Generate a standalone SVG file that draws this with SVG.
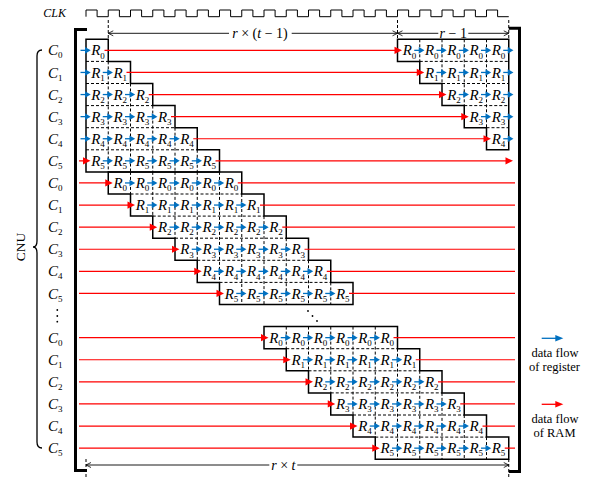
<svg xmlns="http://www.w3.org/2000/svg" xmlns:xlink="http://www.w3.org/1999/xlink" width="590" height="477" viewBox="0 0 590 477">
<style>
.o{fill:none;stroke:#000;stroke-width:1.5}
.d{fill:none;stroke:#000;stroke-width:1;stroke-dasharray:3 2}
.r{font-family:"Liberation Serif","DejaVu Serif",serif;font-style:italic;font-size:15px;fill:#000}
.s{font-style:normal;font-size:9px}
.rl{fill:none;stroke:#f00;stroke-width:1.2}
.dim{fill:none;stroke:#000;stroke-width:0.9}
.t{font-family:"Liberation Serif","DejaVu Serif",serif;font-size:14px;fill:#000}
.lg{font-family:"Liberation Serif","DejaVu Serif",serif;font-size:12.5px;fill:#000;text-anchor:middle}
.br{fill:none;stroke:#000;stroke-width:3}
</style>
<defs>
<g id="b"><path d="M-5.5,0H0" stroke="#0070c0" stroke-width="1.3"/><path d="M-1,-3.3L4.7,0L-1,3.3Z" fill="#0070c0"/></g>
<path id="ra" d="M-7.5,-3.6L0,0L-7.5,3.6Z" fill="#f00"/>
<path id="cr" d="M-5,-2.5L0,0L-5,2.5" fill="none" stroke="#000" stroke-width="0.8"/>
<path id="cl" d="M5,-2.5L0,0L5,2.5" fill="none" stroke="#000" stroke-width="0.8"/>
</defs>

<g id="clock">
<text x="43.3" y="16.7" style="font-family:'Liberation Serif','DejaVu Serif',serif;font-style:italic;font-size:12px">CLK</text>
<path d="M86,16.7 V10 H97.1 V16.7 H108.25 V10 H119.4 V16.7 H130.5 V10 H141.6 V16.7 H152.75 V10 H163.9 V16.7 H175 V10 H186.1 V16.7 H197.25 V10 H208.4 V16.7 H219.5 V10 H230.6 V16.7 H241.75 V10 H252.9 V16.7 H264 V10 H275.1 V16.7 H286.25 V10 H297.4 V16.7 H308.5 V10 H319.6 V16.7 H330.75 V10 H341.9 V16.7 H353 V10 H364.1 V16.7 H375.25 V10 H386.4 V16.7 H397.5 V10 H408.6 V16.7 H419.75 V10 H430.9 V16.7 H442 V10 H453.1 V16.7 H464.25 V10 H475.4 V16.7 H486.5 V10 H497.6 V16.7 H508.75" fill="none" stroke="#000" stroke-width="1"/>
</g>

<g id="dimensions">
<path class="d" d="M108.25,20V39.3 M397.5,20V39.3 M508.75,20V39.3 M86,459V477 M508.75,459V477" stroke-width="0.8"/>
<path class="dim" d="M108.25,33.3H229 M291.7,33.3H397.5 M397.5,33.3H438.3 M468.3,33.3H508.75 M86,465H269.3 M297.3,465H508.75"/>
<use xlink:href="#cl" x="108.25" y="33.3"/>
<use xlink:href="#cr" x="397.5" y="33.3"/>
<use xlink:href="#cl" x="397.5" y="33.3"/>
<use xlink:href="#cr" x="508.75" y="33.3"/>
<use xlink:href="#cl" x="86" y="465"/>
<use xlink:href="#cr" x="508.75" y="465"/>
<text class="t" x="260" y="38" text-anchor="middle"><tspan font-style="italic">r</tspan> × (<tspan font-style="italic">t</tspan> − 1)</text>
<text class="t" x="453.3" y="38" text-anchor="middle"><tspan font-style="italic">r</tspan> − 1</text>
<text class="t" x="283.3" y="469.5" text-anchor="middle"><tspan font-style="italic">r</tspan> × <tspan font-style="italic">t</tspan></text>
</g>

<g id="frame">
<path class="br" d="M87,29.5H75.5V470.5H87"/>
<path class="br" d="M508.75,28.3H519.5V471.5H508.75"/>
</g>

<g id="cnu">
<text transform="translate(25,247) rotate(-90)" text-anchor="middle" style="font-family:'Liberation Serif','DejaVu Serif',serif;font-size:13.5px">CNU</text>
<path d="M42,50 Q37,50 37,56 V241 Q37,247 33,247 Q37,247 37,253 V442 Q37,448 42,448" fill="none" stroke="#000" stroke-width="1.3"/>
<text class="r" x="48" y="55.4">C<tspan class="s" dy="3">0</tspan></text>
<text class="r" x="48" y="77.5">C<tspan class="s" dy="3">1</tspan></text>
<text class="r" x="48" y="99.6">C<tspan class="s" dy="3">2</tspan></text>
<text class="r" x="48" y="121.7">C<tspan class="s" dy="3">3</tspan></text>
<text class="r" x="48" y="143.8">C<tspan class="s" dy="3">4</tspan></text>
<text class="r" x="48" y="165.9">C<tspan class="s" dy="3">5</tspan></text>
<text class="r" x="48" y="188">C<tspan class="s" dy="3">0</tspan></text>
<text class="r" x="48" y="210.1">C<tspan class="s" dy="3">1</tspan></text>
<text class="r" x="48" y="232.2">C<tspan class="s" dy="3">2</tspan></text>
<text class="r" x="48" y="254.3">C<tspan class="s" dy="3">3</tspan></text>
<text class="r" x="48" y="276.4">C<tspan class="s" dy="3">4</tspan></text>
<text class="r" x="48" y="298.5">C<tspan class="s" dy="3">5</tspan></text>
<circle cx="57.3" cy="310" r="0.9"/><circle cx="57.3" cy="316" r="0.9"/><circle cx="57.3" cy="321.7" r="0.9"/>
<text class="r" x="48" y="342.7">C<tspan class="s" dy="3">0</tspan></text>
<text class="r" x="48" y="364.8">C<tspan class="s" dy="3">1</tspan></text>
<text class="r" x="48" y="386.9">C<tspan class="s" dy="3">2</tspan></text>
<text class="r" x="48" y="409">C<tspan class="s" dy="3">3</tspan></text>
<text class="r" x="48" y="431.1">C<tspan class="s" dy="3">4</tspan></text>
<text class="r" x="48" y="453.2">C<tspan class="s" dy="3">5</tspan></text>
</g>

<g id="block1">
<path class="d" d="M86,61.4H108.25 M86,83.5H130.5 M86,105.6H152.75 M86,127.7H175 M86,149.8H197.25 M108.25,61.4V171.9 M130.5,83.5V171.9 M152.75,105.6V171.9 M175,127.7V171.9 M197.25,149.8V171.9"/>
<path class="o" d="M86,39.3 H108.25 V61.4 H130.5 V83.5 H152.75 V105.6 H175 V127.7 H197.25 V149.8 H219.5 V171.9 H86 Z"/>
<text class="r" x="91.2" y="55.4">R<tspan class="s" dy="3.2">0</tspan></text>
<text class="r" x="91.2" y="77.5">R<tspan class="s" dy="3.2">1</tspan></text>
<text class="r" x="113.45" y="77.5">R<tspan class="s" dy="3.2">1</tspan></text>
<text class="r" x="91.2" y="99.6">R<tspan class="s" dy="3.2">2</tspan></text>
<text class="r" x="113.45" y="99.6">R<tspan class="s" dy="3.2">2</tspan></text>
<text class="r" x="135.7" y="99.6">R<tspan class="s" dy="3.2">2</tspan></text>
<text class="r" x="91.2" y="121.7">R<tspan class="s" dy="3.2">3</tspan></text>
<text class="r" x="113.45" y="121.7">R<tspan class="s" dy="3.2">3</tspan></text>
<text class="r" x="135.7" y="121.7">R<tspan class="s" dy="3.2">3</tspan></text>
<text class="r" x="157.95" y="121.7">R<tspan class="s" dy="3.2">3</tspan></text>
<text class="r" x="91.2" y="143.8">R<tspan class="s" dy="3.2">4</tspan></text>
<text class="r" x="113.45" y="143.8">R<tspan class="s" dy="3.2">4</tspan></text>
<text class="r" x="135.7" y="143.8">R<tspan class="s" dy="3.2">4</tspan></text>
<text class="r" x="157.95" y="143.8">R<tspan class="s" dy="3.2">4</tspan></text>
<text class="r" x="180.2" y="143.8">R<tspan class="s" dy="3.2">4</tspan></text>
<text class="r" x="91.2" y="165.9">R<tspan class="s" dy="3.2">5</tspan></text>
<text class="r" x="113.45" y="165.9">R<tspan class="s" dy="3.2">5</tspan></text>
<text class="r" x="135.7" y="165.9">R<tspan class="s" dy="3.2">5</tspan></text>
<text class="r" x="157.95" y="165.9">R<tspan class="s" dy="3.2">5</tspan></text>
<text class="r" x="180.2" y="165.9">R<tspan class="s" dy="3.2">5</tspan></text>
<text class="r" x="202.45" y="165.9">R<tspan class="s" dy="3.2">5</tspan></text>
</g>

<g id="block1b">
<path class="d" d="M419.75,61.4H508.75 M442,83.5H508.75 M464.25,105.6H508.75 M486.5,127.7H508.75 M419.75,39.3V61.4 M442,39.3V83.5 M464.25,39.3V105.6 M486.5,39.3V127.7"/>
<path class="o" d="M397.5,39.3 H508.75 V149.8 H486.5 V127.7 H464.25 V105.6 H442 V83.5 H419.75 V61.4 H397.5 Z"/>
<text class="r" x="402.7" y="55.4">R<tspan class="s" dy="3.2">0</tspan></text>
<text class="r" x="424.95" y="55.4">R<tspan class="s" dy="3.2">0</tspan></text>
<text class="r" x="447.2" y="55.4">R<tspan class="s" dy="3.2">0</tspan></text>
<text class="r" x="469.45" y="55.4">R<tspan class="s" dy="3.2">0</tspan></text>
<text class="r" x="491.7" y="55.4">R<tspan class="s" dy="3.2">0</tspan></text>
<text class="r" x="424.95" y="77.5">R<tspan class="s" dy="3.2">1</tspan></text>
<text class="r" x="447.2" y="77.5">R<tspan class="s" dy="3.2">1</tspan></text>
<text class="r" x="469.45" y="77.5">R<tspan class="s" dy="3.2">1</tspan></text>
<text class="r" x="491.7" y="77.5">R<tspan class="s" dy="3.2">1</tspan></text>
<text class="r" x="447.2" y="99.6">R<tspan class="s" dy="3.2">2</tspan></text>
<text class="r" x="469.45" y="99.6">R<tspan class="s" dy="3.2">2</tspan></text>
<text class="r" x="491.7" y="99.6">R<tspan class="s" dy="3.2">2</tspan></text>
<text class="r" x="469.45" y="121.7">R<tspan class="s" dy="3.2">3</tspan></text>
<text class="r" x="491.7" y="121.7">R<tspan class="s" dy="3.2">3</tspan></text>
<text class="r" x="491.7" y="143.8">R<tspan class="s" dy="3.2">4</tspan></text>
</g>

<g id="block2">
<path class="d" d="M130.5,194H241.75 M152.75,216.1H264 M175,238.2H286.25 M197.25,260.3H308.5 M219.5,282.4H330.75 M130.5,171.9V194 M152.75,171.9V216.1 M175,171.9V238.2 M197.25,171.9V260.3 M219.5,171.9V282.4 M241.75,194V304.5 M264,216.1V304.5 M286.25,238.2V304.5 M308.5,260.3V304.5 M330.75,282.4V304.5"/>
<path class="o" d="M108.25,171.9 H241.75 V194 H264 V216.1 H286.25 V238.2 H308.5 V260.3 H330.75 V282.4 H353 V304.5 H219.5 V282.4 H197.25 V260.3 H175 V238.2 H152.75 V216.1 H130.5 V194 H108.25 Z"/>
<text class="r" x="113.45" y="188">R<tspan class="s" dy="3.2">0</tspan></text>
<text class="r" x="135.7" y="188">R<tspan class="s" dy="3.2">0</tspan></text>
<text class="r" x="157.95" y="188">R<tspan class="s" dy="3.2">0</tspan></text>
<text class="r" x="180.2" y="188">R<tspan class="s" dy="3.2">0</tspan></text>
<text class="r" x="202.45" y="188">R<tspan class="s" dy="3.2">0</tspan></text>
<text class="r" x="224.7" y="188">R<tspan class="s" dy="3.2">0</tspan></text>
<text class="r" x="135.7" y="210.1">R<tspan class="s" dy="3.2">1</tspan></text>
<text class="r" x="157.95" y="210.1">R<tspan class="s" dy="3.2">1</tspan></text>
<text class="r" x="180.2" y="210.1">R<tspan class="s" dy="3.2">1</tspan></text>
<text class="r" x="202.45" y="210.1">R<tspan class="s" dy="3.2">1</tspan></text>
<text class="r" x="224.7" y="210.1">R<tspan class="s" dy="3.2">1</tspan></text>
<text class="r" x="246.95" y="210.1">R<tspan class="s" dy="3.2">1</tspan></text>
<text class="r" x="157.95" y="232.2">R<tspan class="s" dy="3.2">2</tspan></text>
<text class="r" x="180.2" y="232.2">R<tspan class="s" dy="3.2">2</tspan></text>
<text class="r" x="202.45" y="232.2">R<tspan class="s" dy="3.2">2</tspan></text>
<text class="r" x="224.7" y="232.2">R<tspan class="s" dy="3.2">2</tspan></text>
<text class="r" x="246.95" y="232.2">R<tspan class="s" dy="3.2">2</tspan></text>
<text class="r" x="269.2" y="232.2">R<tspan class="s" dy="3.2">2</tspan></text>
<text class="r" x="180.2" y="254.3">R<tspan class="s" dy="3.2">3</tspan></text>
<text class="r" x="202.45" y="254.3">R<tspan class="s" dy="3.2">3</tspan></text>
<text class="r" x="224.7" y="254.3">R<tspan class="s" dy="3.2">3</tspan></text>
<text class="r" x="246.95" y="254.3">R<tspan class="s" dy="3.2">3</tspan></text>
<text class="r" x="269.2" y="254.3">R<tspan class="s" dy="3.2">3</tspan></text>
<text class="r" x="291.45" y="254.3">R<tspan class="s" dy="3.2">3</tspan></text>
<text class="r" x="202.45" y="276.4">R<tspan class="s" dy="3.2">4</tspan></text>
<text class="r" x="224.7" y="276.4">R<tspan class="s" dy="3.2">4</tspan></text>
<text class="r" x="246.95" y="276.4">R<tspan class="s" dy="3.2">4</tspan></text>
<text class="r" x="269.2" y="276.4">R<tspan class="s" dy="3.2">4</tspan></text>
<text class="r" x="291.45" y="276.4">R<tspan class="s" dy="3.2">4</tspan></text>
<text class="r" x="313.7" y="276.4">R<tspan class="s" dy="3.2">4</tspan></text>
<text class="r" x="224.7" y="298.5">R<tspan class="s" dy="3.2">5</tspan></text>
<text class="r" x="246.95" y="298.5">R<tspan class="s" dy="3.2">5</tspan></text>
<text class="r" x="269.2" y="298.5">R<tspan class="s" dy="3.2">5</tspan></text>
<text class="r" x="291.45" y="298.5">R<tspan class="s" dy="3.2">5</tspan></text>
<text class="r" x="313.7" y="298.5">R<tspan class="s" dy="3.2">5</tspan></text>
<text class="r" x="335.95" y="298.5">R<tspan class="s" dy="3.2">5</tspan></text>
</g>

<g id="ellipsis">
<circle cx="308" cy="311" r="0.9"/><circle cx="312.5" cy="316" r="0.9"/><circle cx="317" cy="321" r="0.9"/>
</g>

<g id="block3">
<path class="d" d="M286.25,348.7H397.5 M308.5,370.8H419.75 M330.75,392.9H442 M353,415H464.25 M375.25,437.1H486.5 M286.25,326.6V348.7 M308.5,326.6V370.8 M330.75,326.6V392.9 M353,326.6V415 M375.25,326.6V437.1 M397.5,348.7V459.2 M419.75,370.8V459.2 M442,392.9V459.2 M464.25,415V459.2 M486.5,437.1V459.2"/>
<path class="o" d="M264,326.6 H397.5 V348.7 H419.75 V370.8 H442 V392.9 H464.25 V415 H486.5 V437.1 H508.75 V459.2 H375.25 V437.1 H353 V415 H330.75 V392.9 H308.5 V370.8 H286.25 V348.7 H264 Z"/>
<text class="r" x="269.2" y="342.7">R<tspan class="s" dy="3.2">0</tspan></text>
<text class="r" x="291.45" y="342.7">R<tspan class="s" dy="3.2">0</tspan></text>
<text class="r" x="313.7" y="342.7">R<tspan class="s" dy="3.2">0</tspan></text>
<text class="r" x="335.95" y="342.7">R<tspan class="s" dy="3.2">0</tspan></text>
<text class="r" x="358.2" y="342.7">R<tspan class="s" dy="3.2">0</tspan></text>
<text class="r" x="380.45" y="342.7">R<tspan class="s" dy="3.2">0</tspan></text>
<text class="r" x="291.45" y="364.8">R<tspan class="s" dy="3.2">1</tspan></text>
<text class="r" x="313.7" y="364.8">R<tspan class="s" dy="3.2">1</tspan></text>
<text class="r" x="335.95" y="364.8">R<tspan class="s" dy="3.2">1</tspan></text>
<text class="r" x="358.2" y="364.8">R<tspan class="s" dy="3.2">1</tspan></text>
<text class="r" x="380.45" y="364.8">R<tspan class="s" dy="3.2">1</tspan></text>
<text class="r" x="402.7" y="364.8">R<tspan class="s" dy="3.2">1</tspan></text>
<text class="r" x="313.7" y="386.9">R<tspan class="s" dy="3.2">2</tspan></text>
<text class="r" x="335.95" y="386.9">R<tspan class="s" dy="3.2">2</tspan></text>
<text class="r" x="358.2" y="386.9">R<tspan class="s" dy="3.2">2</tspan></text>
<text class="r" x="380.45" y="386.9">R<tspan class="s" dy="3.2">2</tspan></text>
<text class="r" x="402.7" y="386.9">R<tspan class="s" dy="3.2">2</tspan></text>
<text class="r" x="424.95" y="386.9">R<tspan class="s" dy="3.2">2</tspan></text>
<text class="r" x="335.95" y="409">R<tspan class="s" dy="3.2">3</tspan></text>
<text class="r" x="358.2" y="409">R<tspan class="s" dy="3.2">3</tspan></text>
<text class="r" x="380.45" y="409">R<tspan class="s" dy="3.2">3</tspan></text>
<text class="r" x="402.7" y="409">R<tspan class="s" dy="3.2">3</tspan></text>
<text class="r" x="424.95" y="409">R<tspan class="s" dy="3.2">3</tspan></text>
<text class="r" x="447.2" y="409">R<tspan class="s" dy="3.2">3</tspan></text>
<text class="r" x="358.2" y="431.1">R<tspan class="s" dy="3.2">4</tspan></text>
<text class="r" x="380.45" y="431.1">R<tspan class="s" dy="3.2">4</tspan></text>
<text class="r" x="402.7" y="431.1">R<tspan class="s" dy="3.2">4</tspan></text>
<text class="r" x="424.95" y="431.1">R<tspan class="s" dy="3.2">4</tspan></text>
<text class="r" x="447.2" y="431.1">R<tspan class="s" dy="3.2">4</tspan></text>
<text class="r" x="469.45" y="431.1">R<tspan class="s" dy="3.2">4</tspan></text>
<text class="r" x="380.45" y="453.2">R<tspan class="s" dy="3.2">5</tspan></text>
<text class="r" x="402.7" y="453.2">R<tspan class="s" dy="3.2">5</tspan></text>
<text class="r" x="424.95" y="453.2">R<tspan class="s" dy="3.2">5</tspan></text>
<text class="r" x="447.2" y="453.2">R<tspan class="s" dy="3.2">5</tspan></text>
<text class="r" x="469.45" y="453.2">R<tspan class="s" dy="3.2">5</tspan></text>
<text class="r" x="491.7" y="453.2">R<tspan class="s" dy="3.2">5</tspan></text>
</g>

<g id="connectors">
<path class="rl" d="M104.5,50.35H398 M126.5,72.45H420.25 M148.75,94.55H442.5 M171,116.65H464.75 M193.25,138.75H487 M79,160.85H86.5 M215.5,160.85H509 M79,182.95H108.75 M237.75,182.95H515 M79,205.05H131 M260,205.05H515 M79,227.15H153.25 M282.25,227.15H515 M79,249.25H175.5 M304.5,249.25H515 M79,271.35H197.75 M326.75,271.35H515 M79,293.45H220 M349,293.45H515 M79,337.65H264.5 M393.5,337.65H515 M79,359.75H286.75 M415.75,359.75H515 M79,381.85H309 M438,381.85H515 M79,403.95H331.25 M460.25,403.95H515 M79,426.05H353.5 M482.5,426.05H515 M79,448.15H375.75 M504.75,448.15H515"/>
<use xlink:href="#ra" x="402" y="50.35"/>
<use xlink:href="#ra" x="424.25" y="72.45"/>
<use xlink:href="#ra" x="446.5" y="94.55"/>
<use xlink:href="#ra" x="468.75" y="116.65"/>
<use xlink:href="#ra" x="491" y="138.75"/>
<use xlink:href="#ra" x="90.5" y="160.85"/>
<use xlink:href="#ra" x="513" y="160.85"/>
<use xlink:href="#ra" x="112.75" y="182.95"/>
<use xlink:href="#ra" x="135" y="205.05"/>
<use xlink:href="#ra" x="157.25" y="227.15"/>
<use xlink:href="#ra" x="179.5" y="249.25"/>
<use xlink:href="#ra" x="201.75" y="271.35"/>
<use xlink:href="#ra" x="224" y="293.45"/>
<use xlink:href="#ra" x="268.5" y="337.65"/>
<use xlink:href="#ra" x="290.75" y="359.75"/>
<use xlink:href="#ra" x="313" y="381.85"/>
<use xlink:href="#ra" x="335.25" y="403.95"/>
<use xlink:href="#ra" x="357.5" y="426.05"/>
<use xlink:href="#ra" x="379.75" y="448.15"/>

<use xlink:href="#b" x="86" y="50.35"/>
<use xlink:href="#b" x="86" y="72.45"/><use xlink:href="#b" x="108.25" y="72.45"/>
<use xlink:href="#b" x="86" y="94.55"/><use xlink:href="#b" x="108.25" y="94.55"/><use xlink:href="#b" x="130.5" y="94.55"/>
<use xlink:href="#b" x="86" y="116.65"/><use xlink:href="#b" x="108.25" y="116.65"/><use xlink:href="#b" x="130.5" y="116.65"/><use xlink:href="#b" x="152.75" y="116.65"/>
<use xlink:href="#b" x="86" y="138.75"/><use xlink:href="#b" x="108.25" y="138.75"/><use xlink:href="#b" x="130.5" y="138.75"/><use xlink:href="#b" x="152.75" y="138.75"/><use xlink:href="#b" x="175" y="138.75"/>
<use xlink:href="#b" x="108.25" y="160.85"/><use xlink:href="#b" x="130.5" y="160.85"/><use xlink:href="#b" x="152.75" y="160.85"/><use xlink:href="#b" x="175" y="160.85"/><use xlink:href="#b" x="197.25" y="160.85"/>

<use xlink:href="#b" x="419.75" y="50.35"/><use xlink:href="#b" x="442" y="50.35"/><use xlink:href="#b" x="464.25" y="50.35"/><use xlink:href="#b" x="486.5" y="50.35"/><use xlink:href="#b" x="508.75" y="50.35"/>
<use xlink:href="#b" x="442" y="72.45"/><use xlink:href="#b" x="464.25" y="72.45"/><use xlink:href="#b" x="486.5" y="72.45"/><use xlink:href="#b" x="508.75" y="72.45"/>
<use xlink:href="#b" x="464.25" y="94.55"/><use xlink:href="#b" x="486.5" y="94.55"/><use xlink:href="#b" x="508.75" y="94.55"/>
<use xlink:href="#b" x="486.5" y="116.65"/><use xlink:href="#b" x="508.75" y="116.65"/>
<use xlink:href="#b" x="508.75" y="138.75"/>

<use xlink:href="#b" x="130.5" y="182.95"/><use xlink:href="#b" x="152.75" y="182.95"/><use xlink:href="#b" x="175" y="182.95"/><use xlink:href="#b" x="197.25" y="182.95"/><use xlink:href="#b" x="219.5" y="182.95"/>
<use xlink:href="#b" x="152.75" y="205.05"/><use xlink:href="#b" x="175" y="205.05"/><use xlink:href="#b" x="197.25" y="205.05"/><use xlink:href="#b" x="219.5" y="205.05"/><use xlink:href="#b" x="241.75" y="205.05"/>
<use xlink:href="#b" x="175" y="227.15"/><use xlink:href="#b" x="197.25" y="227.15"/><use xlink:href="#b" x="219.5" y="227.15"/><use xlink:href="#b" x="241.75" y="227.15"/><use xlink:href="#b" x="264" y="227.15"/>
<use xlink:href="#b" x="197.25" y="249.25"/><use xlink:href="#b" x="219.5" y="249.25"/><use xlink:href="#b" x="241.75" y="249.25"/><use xlink:href="#b" x="264" y="249.25"/><use xlink:href="#b" x="286.25" y="249.25"/>
<use xlink:href="#b" x="219.5" y="271.35"/><use xlink:href="#b" x="241.75" y="271.35"/><use xlink:href="#b" x="264" y="271.35"/><use xlink:href="#b" x="286.25" y="271.35"/><use xlink:href="#b" x="308.5" y="271.35"/>
<use xlink:href="#b" x="241.75" y="293.45"/><use xlink:href="#b" x="264" y="293.45"/><use xlink:href="#b" x="286.25" y="293.45"/><use xlink:href="#b" x="308.5" y="293.45"/><use xlink:href="#b" x="330.75" y="293.45"/>

<use xlink:href="#b" x="286.25" y="337.65"/><use xlink:href="#b" x="308.5" y="337.65"/><use xlink:href="#b" x="330.75" y="337.65"/><use xlink:href="#b" x="353" y="337.65"/><use xlink:href="#b" x="375.25" y="337.65"/>
<use xlink:href="#b" x="308.5" y="359.75"/><use xlink:href="#b" x="330.75" y="359.75"/><use xlink:href="#b" x="353" y="359.75"/><use xlink:href="#b" x="375.25" y="359.75"/><use xlink:href="#b" x="397.5" y="359.75"/>
<use xlink:href="#b" x="330.75" y="381.85"/><use xlink:href="#b" x="353" y="381.85"/><use xlink:href="#b" x="375.25" y="381.85"/><use xlink:href="#b" x="397.5" y="381.85"/><use xlink:href="#b" x="419.75" y="381.85"/>
<use xlink:href="#b" x="353" y="403.95"/><use xlink:href="#b" x="375.25" y="403.95"/><use xlink:href="#b" x="397.5" y="403.95"/><use xlink:href="#b" x="419.75" y="403.95"/><use xlink:href="#b" x="442" y="403.95"/>
<use xlink:href="#b" x="375.25" y="426.05"/><use xlink:href="#b" x="397.5" y="426.05"/><use xlink:href="#b" x="419.75" y="426.05"/><use xlink:href="#b" x="442" y="426.05"/><use xlink:href="#b" x="464.25" y="426.05"/>
<use xlink:href="#b" x="397.5" y="448.15"/><use xlink:href="#b" x="419.75" y="448.15"/><use xlink:href="#b" x="442" y="448.15"/><use xlink:href="#b" x="464.25" y="448.15"/><use xlink:href="#b" x="486.5" y="448.15"/>
</g>

<g id="legend">
<path d="M541.7,338.3H557" stroke="#0070c0" stroke-width="1.3"/>
<path d="M555.3,335.1L563.3,338.3L555.3,341.5Z" fill="#0070c0"/>
<text class="lg" x="555" y="356.7">data flow</text>
<text class="lg" x="554.5" y="370.7">of register</text>
<path d="M541.7,404.3H557" stroke="#f00" stroke-width="1.3"/>
<path d="M555.3,401.1L563.3,404.3L555.3,407.5Z" fill="#f00"/>
<text class="lg" x="555" y="422.7">data flow</text>
<text class="lg" x="554.5" y="436.7">of RAM</text>
</g>
</svg>
